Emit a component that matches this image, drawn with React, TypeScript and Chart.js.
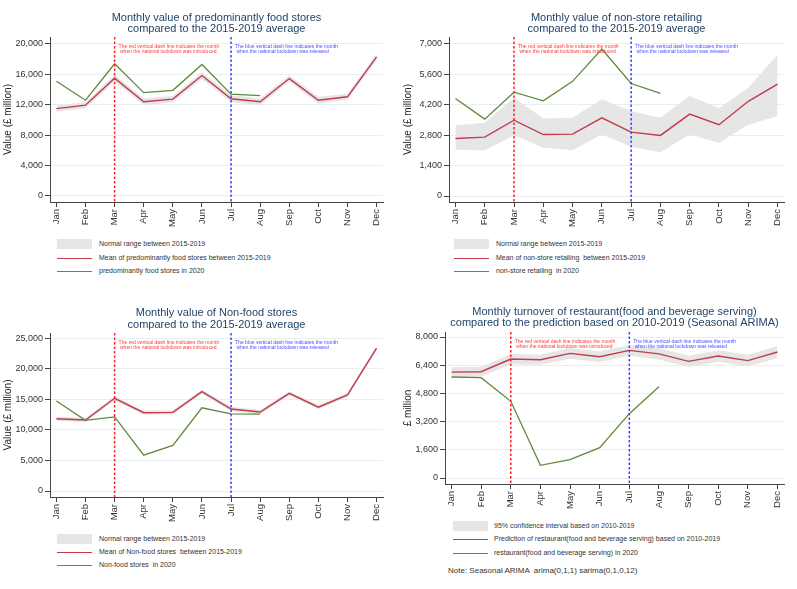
import React, { useEffect, useRef } from 'react';
import { Chart, registerables } from 'chart.js';
Chart.register(...registerables);

const FONT = '"Liberation Sans", Arial, Helvetica, sans-serif';
const RED = '#c23a4c';
const GREEN = '#5c8a3c';
const BAND = '#e6e6e6';
const TITLE_COLOR = '#23456a';

const months = ['Jan', 'Feb', 'Mar', 'Apr', 'May', 'Jun', 'Jul', 'Aug', 'Sep', 'Oct', 'Nov', 'Dec'];
const lockdownMonth = 2;
const releaseMonth = 6;
const lockdownText = ['The red vertical dash line indicates the month', ' when the national lockdown was introduced'];
const releaseText = ['The blue vertical dash line indicates the month', ' when the national lockdown was released'];

// Panel 1: predominantly food stores (£ million)
const foodTicks = [0, 4000, 8000, 12000, 16000, 20000];
const foodLow = [11100, 11550, 15050, 11950, 12350, 15400, 12350, 11950, 15050, 12150, 12650, 17850];
const foodHigh = [11900, 12350, 15950, 12850, 13150, 16300, 13250, 12850, 15850, 13050, 13450, 18750];
const foodMean = [11500, 11950, 15500, 12400, 12750, 15850, 12800, 12400, 15450, 12600, 13050, 18300];
const food2020 = [15100, 12600, 17400, 13600, 13900, 17300, 13400, 13200];

// Panel 2: non-store retailing
const nsTicks = [0, 1400, 2800, 4200, 5600, 7000];
const nsLow = [2130, 2110, 2800, 2220, 2110, 2830, 2270, 2020, 2830, 2450, 3280, 3680];
const nsHigh = [3250, 3370, 4520, 3570, 3600, 4460, 3920, 3600, 4600, 4040, 4990, 6510];
const nsMean = [2650, 2710, 3490, 2830, 2850, 3600, 2940, 2790, 3770, 3280, 4360, 5150];
const ns2020 = [4490, 3540, 4780, 4380, 5280, 6770, 5180, 4730];

// Panel 3: non-food stores
const nfTicks = [0, 5000, 10000, 15000, 20000, 25000];
const nfLow = [11450, 11250, 14800, 12450, 12500, 15900, 13050, 12550, 15600, 13350, 15350, 23000];
const nfHigh = [12150, 11950, 15500, 13150, 13200, 16600, 13750, 13250, 16300, 14050, 16050, 23700];
const nfMean = [11800, 11600, 15150, 12800, 12850, 16250, 13400, 12900, 15950, 13700, 15700, 23350];
const nf2020 = [14700, 11550, 12100, 5850, 7450, 13600, 12600, 12550];

// Panel 4: restaurants (food and beverage serving)
const restTicks = [0, 1600, 3200, 4800, 6400, 8000];
const restLow = [5730, 5750, 6460, 6420, 6770, 6580, 6930, 6720, 6300, 6590, 6330, 6810];
const restHigh = [6290, 6310, 7040, 7000, 7370, 7180, 7550, 7360, 6940, 7250, 6990, 7490];
const restPred = [6010, 6030, 6750, 6710, 7070, 6880, 7240, 7040, 6620, 6920, 6660, 7150];
const rest2020 = [5730, 5690, 4350, 720, 1040, 1720, 3650, 5180];

type PanelCfg = {
  left: number; top: number; width: number; height: number;
  title: string[]; titleLH: number; titlePadTop: number; titlePadBottom: number;
  yTitle: string; yTicks: number[]; yMin: number; yMax: number;
  yWidth: number; xHeight: number; padRight: number;
  low: number[]; high: number[]; mean: number[]; actual: number[];
  legend: string[]; legendLeft: number; legendText: number; legendRows: number[];
  note?: string;
};

const pts = (arr: number[]) => arr.map((v, i) => ({ x: i, y: v }));

const vlinePlugin = {
  id: 'vlines',
  afterDatasetsDraw(chart: any) {
    const { ctx, chartArea, scales } = chart;
    const draw = (m: number, color: string, textColor: string, text: string[]) => {
      const x = scales.x.getPixelForValue(m);
      ctx.save();
      ctx.strokeStyle = color;
      ctx.lineWidth = 1.5;
      ctx.setLineDash([2.5, 2]);
      ctx.beginPath();
      ctx.moveTo(x, chartArea.top);
      ctx.lineTo(x, chartArea.bottom);
      ctx.stroke();
      ctx.setLineDash([]);
      ctx.fillStyle = textColor;
      ctx.font = '5px ' + FONT;
      ctx.textBaseline = 'middle';
      ctx.textAlign = 'left';
      text.forEach((t, i) => ctx.fillText(t, x + 4, chartArea.top + 10 + i * 5));
      ctx.restore();
    };
    draw(lockdownMonth, '#ff2222', '#ff3b3b', lockdownText);
    draw(releaseMonth, '#3a45ff', '#4a50ff', releaseText);
  },
};

function Panel({ cfg }: { cfg: PanelCfg }) {
  const ref = useRef<HTMLCanvasElement>(null);
  useEffect(() => {
    const chart = new Chart(ref.current as HTMLCanvasElement, {
      type: 'line',
      data: {
        datasets: [
          { label: 'low', data: pts(cfg.low), borderColor: 'rgba(0,0,0,0)', borderWidth: 1, pointRadius: 0, fill: false, order: 4 },
          { label: 'high', data: pts(cfg.high), borderColor: 'rgba(0,0,0,0)', borderWidth: 1, pointRadius: 0, fill: '-1', backgroundColor: BAND, order: 3 },
          { label: 'mean', data: pts(cfg.mean), borderColor: RED, borderWidth: 1.4, pointRadius: 0, fill: false, order: 2 },
          { label: '2020', data: pts(cfg.actual), borderColor: GREEN, borderWidth: 1.3, pointRadius: 0, fill: false, order: 1 },
        ] as any,
      },
      options: {
        responsive: false,
        animation: false,
        layout: { padding: { left: 0, top: 0, bottom: 0, right: cfg.padRight } },
        plugins: {
          legend: { display: false },
          tooltip: { enabled: false },
          title: {
            display: true,
            text: cfg.title,
            fullSize: false,
            color: TITLE_COLOR,
            font: { family: FONT, size: 11, weight: 'normal', lineHeight: cfg.titleLH },
            padding: { top: cfg.titlePadTop, bottom: cfg.titlePadBottom },
          },
        },
        scales: {
          x: {
            type: 'linear',
            min: -0.22,
            max: 11.22,
            afterBuildTicks: (s: any) => { s.ticks = months.map((_, i) => ({ value: i })); },
            afterFit: (s: any) => { s.height = cfg.xHeight; s.paddingLeft = 0; s.paddingRight = 0; },
            ticks: {
              autoSkip: false, maxRotation: 90, minRotation: 90, padding: 2,
              color: '#333', font: { family: FONT, size: 9.5 },
              callback: (v: any) => months[v as number],
            },
            grid: { drawOnChartArea: false, tickLength: 5, tickColor: '#444', tickWidth: 1 },
            border: { color: '#444', width: 1 },
          },
          y: {
            type: 'linear',
            min: cfg.yMin,
            max: cfg.yMax,
            afterBuildTicks: (s: any) => { s.ticks = cfg.yTicks.map((v) => ({ value: v })); },
            afterFit: (s: any) => { s.width = cfg.yWidth; s.paddingTop = 0; s.paddingBottom = 0; },
            ticks: {
              padding: 2, color: '#333', font: { family: FONT, size: 9 },
              callback: (v: any) => Number(v).toLocaleString('en-US'),
            },
            grid: { color: '#e8eef1', lineWidth: 1, tickLength: 5, tickColor: '#444', tickWidth: 1 },
            border: { color: '#444', width: 1 },
            title: { display: true, text: cfg.yTitle, color: '#222', font: { family: FONT, size: 10 }, padding: { top: 2, bottom: 0 } },
          },
        },
      } as any,
      plugins: [vlinePlugin],
    });
    return () => chart.destroy();
  }, [cfg]);

  const lineItem = (color: string | null, text: string, y: number, key: number) => (
    <div key={key} style={{ position: 'absolute', left: 0, top: y - cfg.top, height: 0 }}>
      {color === null ? (
        <div style={{ position: 'absolute', left: cfg.legendLeft, top: -5, width: 35, height: 10, background: BAND }} />
      ) : (
        <div style={{ position: 'absolute', left: cfg.legendLeft, top: -0.5, width: 35, height: 1, background: color }} />
      )}
      <div style={{ position: 'absolute', left: cfg.legendText, top: -5, lineHeight: '10px', fontSize: 7, fontFamily: FONT, color: '#333', whiteSpace: 'pre' }}>{text}</div>
    </div>
  );

  return (
    <>
      <canvas ref={ref} width={cfg.width} height={cfg.height}
        style={{ position: 'absolute', left: cfg.left, top: cfg.top, width: cfg.width, height: cfg.height }} />
      <div style={{ position: 'absolute', left: 0, top: cfg.top, width: 0, height: 0 }}>
        {lineItem(null, cfg.legend[0], cfg.legendRows[0], 0)}
        {lineItem(RED, cfg.legend[1], cfg.legendRows[1], 1)}
        {lineItem(GREEN, cfg.legend[2], cfg.legendRows[2], 2)}
        {cfg.note ? (
          <div style={{ position: 'absolute', left: 448, top: 571 - cfg.top - 6, lineHeight: '12px', fontSize: 8, fontFamily: FONT, color: '#333', whiteSpace: 'pre' }}>{cfg.note}</div>
        ) : null}
      </div>
    </>
  );
}

const panels: PanelCfg[] = [
  {
    left: 0, top: 0, width: 385, height: 236,
    title: ['Monthly value of predominantly food stores', 'compared to the 2015-2019 average'],
    titleLH: 1.05, titlePadTop: 11.7, titlePadBottom: 2.2,
    yTitle: 'Value (£ million)', yTicks: foodTicks, yMin: -790, yMax: 20920,
    yWidth: 50, xHeight: 34, padRight: 2,
    low: foodLow, high: foodHigh, mean: foodMean, actual: food2020,
    legend: ['Normal range between 2015-2019', 'Mean of predominantly food stores between 2015-2019', 'predominantly food stores in 2020'],
    legendLeft: 57, legendText: 99, legendRows: [244, 258, 271],
  },
  {
    left: 400, top: 0, width: 387, height: 236,
    title: ['Monthly value of non-store retailing', 'compared to the 2015-2019 average'],
    titleLH: 1.05, titlePadTop: 11.7, titlePadBottom: 2.2,
    yTitle: 'Value (£ million)', yTicks: nsTicks, yMin: -276, yMax: 7322,
    yWidth: 49, xHeight: 34, padRight: 3,
    low: nsLow, high: nsHigh, mean: nsMean, actual: ns2020,
    legend: ['Normal range between 2015-2019', 'Mean of non-store retailing  between 2015-2019', 'non-store retailing  in 2020'],
    legendLeft: 454, legendText: 496, legendRows: [244, 258, 271],
  },
  {
    left: 0, top: 290, width: 385, height: 240,
    title: ['Monthly value of Non-food stores', 'compared to the 2015-2019 average'],
    titleLH: 1.05, titlePadTop: 17.2, titlePadBottom: 2.7,
    yTitle: 'Value (£ million)', yTicks: nfTicks, yMin: -980, yMax: 25820,
    yWidth: 50, xHeight: 33, padRight: 2,
    low: nfLow, high: nfHigh, mean: nfMean, actual: nf2020,
    legend: ['Normal range between 2015-2019', 'Mean of Non-food stores  between 2015-2019', 'Non-food stores  in 2020'],
    legendLeft: 57, legendText: 99, legendRows: [539, 552, 565],
  },
  {
    left: 400, top: 290, width: 387, height: 230,
    title: ['Monthly turnover of restaurant(food and beverage serving)', 'compared to the prediction based on 2010-2019 (Seasonal ARIMA)'],
    titleLH: 0.95, titlePadTop: 16.8, titlePadBottom: 4.3,
    yTitle: '£ million', yTicks: restTicks, yMin: -340, yMax: 8284,
    yWidth: 45, xHeight: 36, padRight: 3,
    low: restLow, high: restHigh, mean: restPred, actual: rest2020,
    legend: ['95% confidence interval based on 2010-2019', 'Prediction of restaurant(food and beverage serving) based on 2010-2019', 'restaurant(food and beverage serving) in 2020'],
    legendLeft: 453, legendText: 494, legendRows: [526, 539, 553],
    note: 'Note: Seasonal ARIMA  arima(0,1,1) sarima(0,1,0,12)',
  },
];

export default function App() {
  return (
    <div style={{ position: 'absolute', left: 0, top: 0, width: 797, height: 589, background: '#fff', overflow: 'hidden' }}>
      {panels.map((p, i) => <Panel key={i} cfg={p} />)}
    </div>
  );
}
